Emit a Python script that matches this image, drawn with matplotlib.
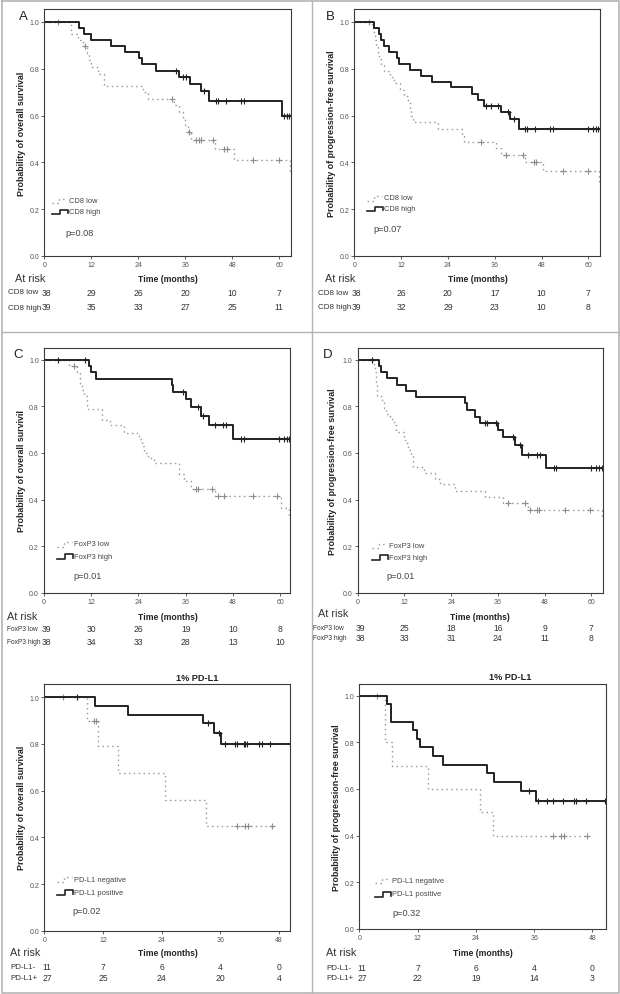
import matplotlib.pyplot as plt
from matplotlib.transforms import blended_transform_factory
import numpy as np

plt.rcParams['font.family'] = ['Liberation Sans', 'DejaVu Sans']

# ---------------- data ----------------
# A: CD8, overall survival
a_low_t = [6.7, 8.5, 10.0, 11.0, 11.5, 12.0, 13.6, 15.3, 25.1, 26.4, 33.2, 34.5, 35.3, 36.0, 36.6, 37.4, 43.6, 48.5, 62.8]
a_low_s = [0.947, 0.921, 0.895, 0.865, 0.836, 0.806, 0.776, 0.728, 0.70, 0.671, 0.643, 0.615, 0.587, 0.559, 0.53, 0.496, 0.457, 0.41, 0.35]
a_low_c = [3.6, 10.4, 32.5, 37.0, 38.7, 39.4, 40.0, 43.2, 46.0, 46.6, 53.2, 60.0]
a_high_t = [8.9, 10.2, 11.9, 17.0, 20.6, 24.3, 24.9, 28.5, 34.5, 37.2, 40.0, 42.0, 60.6]
a_high_s = [0.974, 0.949, 0.923, 0.897, 0.872, 0.846, 0.818, 0.791, 0.765, 0.735, 0.704, 0.661, 0.597]
a_high_c = [33.6, 35.3, 36.2, 40.7, 43.8, 44.4, 46.4, 50.2, 50.9, 61.3, 62.0, 62.6]

# B: CD8, progression-free survival
b_low_t = [4.5, 5.0, 5.3, 5.6, 6.0, 6.4, 6.8, 7.5, 9.2, 10.3, 11.8, 12.8, 13.8, 14.2, 14.6, 15.0, 21.4, 27.5, 28.0, 36.3, 37.6, 43.8, 48.5, 62.8]
b_low_s = [0.974, 0.947, 0.921, 0.895, 0.868, 0.842, 0.816, 0.789, 0.763, 0.737, 0.711, 0.684, 0.658, 0.63, 0.60, 0.571, 0.543, 0.514, 0.486, 0.46, 0.43, 0.40, 0.364, 0.31]
b_low_c = [3.8, 32.5, 38.9, 43.2, 46.0, 46.6, 53.4, 59.8]
b_high_t = [5.0, 6.4, 6.8, 7.5, 9.0, 10.9, 11.5, 14.4, 17.1, 19.8, 24.8, 30.3, 31.6, 33.2, 37.6, 40.0, 42.3]
b_high_s = [0.974, 0.949, 0.923, 0.897, 0.872, 0.846, 0.82, 0.795, 0.77, 0.744, 0.72, 0.69, 0.667, 0.64, 0.613, 0.585, 0.543]
b_high_c = [33.8, 35.0, 36.8, 39.3, 41.0, 43.8, 44.4, 46.4, 50.2, 50.9, 60.0, 61.3, 62.0, 62.6]

# C: FoxP3, overall survival
c_low_t = [6.4, 8.3, 9.2, 9.7, 10.2, 11.0, 14.8, 16.8, 20.3, 24.2, 24.8, 25.5, 26.5, 28.0, 34.3, 35.6, 37.3, 43.4, 60.2, 62.3]
c_low_s = [0.974, 0.947, 0.897, 0.87, 0.846, 0.79, 0.74, 0.718, 0.685, 0.66, 0.63, 0.60, 0.579, 0.557, 0.51, 0.48, 0.447, 0.416, 0.365, 0.32]
c_low_c = [7.6, 38.6, 39.2, 42.8, 44.1, 45.8, 53.0, 59.3]
c_high_t = [11.4, 11.9, 13.1, 32.4, 32.9, 36.0, 37.3, 39.8, 42.0, 48.1]
c_high_s = [0.974, 0.947, 0.918, 0.89, 0.861, 0.83, 0.797, 0.76, 0.718, 0.658]
c_high_c = [3.6, 10.3, 35.2, 39.2, 40.5, 43.4, 45.5, 46.2, 50.0, 50.7, 59.7, 61.0, 61.7, 62.3]

# D: FoxP3, progression-free survival
d_low_t = [4.2, 4.4, 4.6, 4.8, 5.0, 6.2, 6.8, 7.2, 8.4, 9.4, 9.8, 11.8, 12.2, 13.0, 13.6, 14.3, 16.9, 19.9, 21.2, 25.0, 32.7, 37.4, 43.8, 62.8]
d_low_s = [0.974, 0.949, 0.923, 0.897, 0.846, 0.821, 0.795, 0.769, 0.744, 0.718, 0.692, 0.667, 0.641, 0.615, 0.59, 0.538, 0.513, 0.49, 0.466, 0.437, 0.41, 0.384, 0.357, 0.32]
d_low_c = [3.7, 38.7, 43.0, 44.2, 46.0, 46.5, 53.2, 59.6]
d_high_t = [5.4, 6.0, 7.5, 10.2, 12.4, 15.0, 27.6, 28.0, 30.2, 31.4, 36.1, 37.4, 40.4, 42.1, 48.4]
d_high_s = [0.974, 0.946, 0.921, 0.893, 0.865, 0.84, 0.813, 0.784, 0.756, 0.729, 0.70, 0.667, 0.636, 0.593, 0.536]
d_high_c = [3.7, 32.7, 33.3, 35.5, 40.0, 41.7, 43.8, 46.0, 46.7, 50.3, 51.0, 60.0, 61.3, 62.0, 62.7]

# E: 1% PD-L1, overall survival
e_neg_t = [8.8, 11.0, 15.1, 24.6, 33.1]
e_neg_s = [0.90, 0.79, 0.675, 0.56, 0.45]
e_neg_c = [3.9, 10.1, 10.5, 39.3, 41.0, 41.7, 46.6]
e_pos_t = [10.3, 17.0, 32.5, 34.7, 36.1]
e_pos_s = [0.963, 0.925, 0.888, 0.847, 0.80]
e_pos_c = [6.7, 33.5, 35.7, 36.9, 38.9, 39.3, 40.7, 41.0, 41.4, 43.9, 44.4, 46.1, 50.1]

# F: 1% PD-L1, progression-free survival
f_neg_t = [5.3, 6.7, 14.1, 24.9, 27.5]
f_neg_s = [0.80, 0.70, 0.60, 0.50, 0.40]
f_neg_c = [3.7, 39.9, 41.6, 42.1, 46.8]
f_pos_t = [5.7, 6.6, 11.0, 11.9, 12.6, 15.1, 17.2, 26.3, 27.8, 33.3, 36.4]
f_pos_s = [0.963, 0.889, 0.852, 0.815, 0.778, 0.741, 0.704, 0.667, 0.63, 0.59, 0.55]
f_pos_c = [35.0, 36.8, 38.6, 39.9, 42.0, 44.2, 44.6, 46.7, 50.6]

# numbers at risk
risk_a = [[38, 29, 26, 20, 10, 7], [39, 35, 33, 27, 25, 11]]
risk_b = [[38, 26, 20, 17, 10, 7], [39, 32, 29, 23, 10, 8]]
risk_c = [[39, 30, 26, 19, 10, 8], [38, 34, 33, 28, 13, 10]]
risk_d = [[39, 25, 18, 16, 9, 7], [38, 33, 31, 24, 11, 8]]
risk_e = [[11, 7, 6, 4, 0], [27, 25, 24, 20, 4]]
risk_f = [[11, 7, 6, 4, 0], [27, 22, 19, 14, 3]]

ticks_60 = [0, 12, 24, 36, 48, 60]
ticks_48 = [0, 12, 24, 36, 48]

os_label = 'Probability of overall survival'
pfs_label = 'Probability of progression-free survival'

W, H = 620, 995
fig = plt.figure(figsize=(W / 100, H / 100), dpi=100)

# overlay in pixel coordinates for frames and free text
over = fig.add_axes([0, 0, 1, 1])
over.set_xlim(0, W)
over.set_ylim(H, 0)
over.axis('off')
over.set_zorder(5)

GRID = '#b4b4b4'
over.plot([1.5, 618.5, 618.5, 1.5, 1.5], [1.5, 1.5, 993.5, 993.5, 1.5], color=GRID, lw=1.2)
over.plot([1.5, 618.5], [333, 333], color=GRID, lw=1.0)
over.plot([311.5, 311.5], [1.5, 993.5], color=GRID, lw=1.0)

DOT = dict(color='#9a9a9a', lw=1.0, ls=(0, (1.1, 2.4)))
SOLID = dict(color='#222222', lw=1.4)


def curve(ax, t, s, cens, end, style, mcol):
    t = np.asarray(t)
    s = np.asarray(s)
    x = np.r_[0, t, end]
    y = np.r_[1.0, s, s[-1]]
    ax.step(x, y, where='post', **style)
    idx = np.searchsorted(t, cens, side='right')
    yc = np.r_[1.0, s][idx]
    ax.plot(cens, yc, ls='none', marker='+', ms=4.5, mew=0.8, color=mcol)


def panel(box, xmax, ytop, xticks, low, high, ylab, ylab_x, letter, title,
          legend, pval, risk, risk_labels, risk_y, label_x, label_fs,
          atrisk_xy, time_xy):
    l, t, r, b = box
    ax = fig.add_axes([l / W, 1 - b / H, (r - l) / W, (b - t) / H])
    curve(ax, *low, end=min(low[2][-1], xmax) if low[2][-1] > low[0][-1] else xmax,
          style=DOT, mcol='#8c8c8c')
    curve(ax, *high, end=xmax, style=SOLID, mcol='#222222')
    ax.set_xlim(0, xmax)
    ax.set_ylim(0, ytop)
    ax.set_xticks(xticks)
    ax.set_yticks([0, 0.2, 0.4, 0.6, 0.8, 1.0])
    ax.set_yticklabels(['0.0', '0.2', '0.4', '0.6', '0.8', '1.0'])
    ax.tick_params(direction='out', length=2.5, width=0.6, labelsize=5.0,
                   labelcolor='#555555', color='#444444', pad=1.2)
    for sp in ax.spines.values():
        sp.set_color('#3a3a3a')
        sp.set_linewidth(0.8)

    over.text(ylab_x, (t + b) / 2, ylab, rotation=90, ha='center', va='center',
              fontsize=6.4, fontweight='bold', color='#222222')
    if letter:
        over.text(letter[0], letter[1], letter[2], ha='center', va='center',
                  fontsize=9.5, color='#222222')
    if title:
        over.text(title[0], title[1], title[2], ha='center', va='center',
                  fontsize=6.6, fontweight='bold', color='#222222')

    lx, y1, y2, names = legend
    over.plot([lx, lx + 3, lx + 7, lx + 7, lx + 15], [y1 + 2.5, y1 + 2.5, y1 + 2.5, y1 - 2, y1 - 2], **DOT)
    over.plot([lx, lx + 8, lx + 8, lx + 16, lx + 16], [y2 + 2.5, y2 + 2.5, y2 - 2, y2 - 2, y2 + 1.5],
              color='#222222', lw=1.2)
    over.text(lx + 17, y1, names[0], ha='left', va='center', fontsize=5.4, color='#444444')
    over.text(lx + 17, y2, names[1], ha='left', va='center', fontsize=5.4, color='#444444')
    over.text(pval[0], pval[1], pval[2], ha='left', va='center', fontsize=6.6, color='#444444')

    over.text(atrisk_xy[0], atrisk_xy[1], 'At risk', ha='left', va='center',
              fontsize=7.8, color='#333333')
    over.text(time_xy[0], time_xy[1], 'Time (months)', ha='center', va='center',
              fontsize=6.2, fontweight='bold', color='#222222')
    tr = blended_transform_factory(ax.transData, over.transData)
    for row, name, ry in zip(risk, risk_labels, risk_y):
        over.text(label_x, ry, name, ha='left', va='center', fontsize=label_fs, color='#333333')
        for tk, n in zip(xticks, row):
            xx = tk + 0.6 if tk == 0 else tk
            ax.text(xx, ry, str(n), transform=tr, ha='center', va='center',
                    fontsize=6.2, color='#333333', clip_on=False)
    return ax


panel((44.3, 10, 291, 257), 63.0, 1.055, ticks_60,
      (a_low_t, a_low_s, a_low_c), (a_high_t, a_high_s, a_high_c),
      os_label, 21.7, (23, 17, 'A'), None,
      (51.7, 201.7, 212.5, ['CD8 low', 'CD8 high']), (65, 233, 'p=0.08'),
      risk_a, ['CD8 low', 'CD8 high'], [293, 308], 8, 5.8, (15, 279), (168, 279))

panel((354.3, 10, 600, 257), 63.0, 1.055, ticks_60,
      (b_low_t, b_low_s, b_low_c), (b_high_t, b_high_s, b_high_c),
      pfs_label, 331.7, (330, 17, 'B'), None,
      (366.7, 199, 209.5, ['CD8 low', 'CD8 high']), (373.3, 229.3, 'p=0.07'),
      risk_b, ['CD8 low', 'CD8 high'], [293.3, 307.3], 318.3, 5.8, (325, 279), (477.5, 279))

panel((44, 349, 290, 594), 62.5, 1.05, ticks_60,
      (c_low_t, c_low_s, c_low_c), (c_high_t, c_high_s, c_high_c),
      'Probability of overall survivil', 21.7, (18, 355, 'C'), None,
      (56.7, 545, 557.3, ['FoxP3 low', 'FoxP3 high']), (73.3, 576.7, 'p=0.01'),
      risk_c, ['FoxP3 low', 'FoxP3 high'], [629.3, 642.7], 6.7, 4.8, (6.7, 616.7), (168, 617))

panel((357.7, 349, 603, 594), 63.0, 1.05, ticks_60,
      (d_low_t, d_low_s, d_low_c), (d_high_t, d_high_s, d_high_c),
      pfs_label, 332.7, (328, 355, 'D'), None,
      (371.7, 546.7, 558, ['FoxP3 low', 'FoxP3 high']), (386.7, 576.7, 'p=0.01'),
      risk_d, ['FoxP3 low', 'FoxP3 high'], [628.3, 638.3], 313, 4.8, (318.3, 614), (480, 617.7))

panel((44.3, 685, 290, 931.7), 50.2, 1.057, ticks_48,
      (e_neg_t, e_neg_s, e_neg_c), (e_pos_t, e_pos_s, e_pos_c),
      os_label, 21.7, None, (196.7, 678.3, '1% PD-L1'),
      (56.7, 880, 893.3, ['PD-L1 negative', 'PD-L1 positive']), (72.7, 911.7, 'p=0.02'),
      risk_e, ['PD-L1-', 'PD-L1+'], [967.3, 978.3], 10.7, 5.8, (10, 953.3), (168, 954))

panel((359.3, 685, 606, 930), 50.8, 1.05, ticks_48,
      (f_neg_t, f_neg_s, f_neg_c), (f_pos_t, f_pos_s, f_pos_c),
      pfs_label, 336.7, None, (510, 678, '1% PD-L1'),
      (375, 881.7, 895, ['PD-L1 negative', 'PD-L1 positive']), (392.7, 913.3, 'p=0.32'),
      risk_f, ['PD-L1-', 'PD-L1+'], [968.3, 978.3], 326, 5.8, (326, 953.3), (483.3, 954))

plt.savefig('out.png', dpi=100)
